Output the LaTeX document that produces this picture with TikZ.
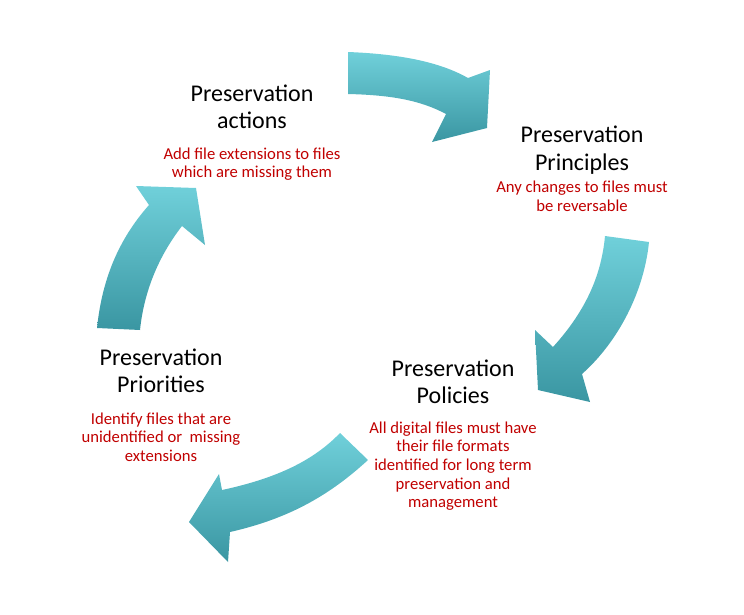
\documentclass[tikz,border=0pt]{standalone}
\usepackage{fontspec}
\setmainfont{Carlito}
\usepackage{tikz}
\definecolor{tealhi}{RGB}{112,208,218}
\definecolor{teallo}{RGB}{58,150,162}
\definecolor{notered}{RGB}{192,0,0}
\tikzset{
  cyclearrow/.style={top color=tealhi,bottom color=teallo,draw=none},
  headtext/.style={align=center,font=\fontsize{18}{20.5}\selectfont,inner sep=0.75pt},
  notetext/.style={align=center,text=notered,font=\fontsize{12.5}{14}\selectfont,inner sep=0.75pt}
}
\begin{document}
\begin{tikzpicture}[x=0.75pt,y=0.75pt,yscale=-1,xscale=1]
  \useasboundingbox (0,0) rectangle (744,615);

  %Shape: Arrow top
  \path [cyclearrow,shading angle=0] (348,52) .. controls (400,54) and (440,62) .. (468,78) -- (490,70) -- (487,128) -- (432,142) -- (446,114) .. controls (420,100) and (390,95) .. (348,94) -- cycle ;
  %Shape: Arrow right
  \path [cyclearrow] (605,236) -- (649,242) .. controls (644,292) and (618,342) .. (582,374) -- (590,402) -- (538,390) -- (535,330) -- (553,347) .. controls (582,315) and (601,280) .. cycle ;
  %Shape: Arrow bottom
  \path [cyclearrow,shading angle=0] (340,433) -- (368,460) .. controls (332,493) and (292,518) .. (230,532) -- (228,562) -- (189,522) -- (219,474) -- (222,490) .. controls (278,478) and (314,460) .. cycle ;
  %Shape: Arrow left
  \path [cyclearrow] (97,328) .. controls (102,280) and (118,240) .. (149,205) -- (136,186) -- (196,188) -- (205,245) -- (182,226) .. controls (158,257) and (144,292) .. (140,330) -- cycle ;

  % Text Node
  \node [headtext] (actions) at (252,107) {Preservation\\actions};
  \node [notetext] (actionsnote) at (252,164) {Add file extensions to files\\which are missing them};
  % Text Node
  \node [headtext] (principles) at (582,150) {Preservation\\Principles};
  \node [notetext] (principlesnote) at (582,196) {Any changes to files must\\be reversable};
  % Text Node
  \node [headtext] (policies) at (453,382) {Preservation\\Policies};
  \node [notetext] (policiesnote) at (453,466) {All digital files must have\\their file formats\\identified for long term\\preservation and\\management};
  % Text Node
  \node [headtext] (priorities) at (161,371) {Preservation\\Priorities};
  \node [notetext] (prioritiesnote) at (161,437) {Identify files that are\\unidentified or \ missing\\extensions};
\end{tikzpicture}
\end{document}
